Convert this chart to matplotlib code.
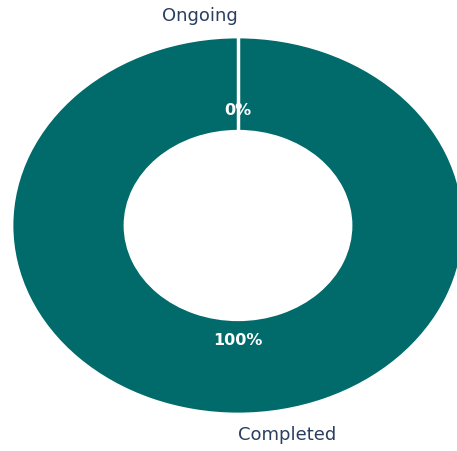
import numpy as np
import matplotlib
matplotlib.use('Agg')
import matplotlib.pyplot as plt

# donut of project status
labels = ['Ongoing', 'Completed']
values = [0, 100]
colours = ['#1f77b4', '#006b6a']

fig = plt.figure(figsize=(4.57, 4.51), dpi=100)
ax = fig.add_axes([0, 0, 1, 1])

wedges, texts, autotexts = ax.pie(
    values, labels=labels, colors=colours, startangle=90, counterclock=False,
    autopct='%1.0f%%', pctdistance=0.61, labeldistance=1.11,
    wedgeprops=dict(width=0.5, edgecolor='white', linewidth=2),
    textprops=dict(color='#2a3f5f', fontsize=13))

texts[0].set_ha('right')
texts[1].set_ha('left')
for t in autotexts:
    t.set_color('white')
    t.set_fontweight('bold')
    t.set_fontsize(11.5)

# full-circle wedge has no radial edge, so draw the slice border by hand
ang = np.deg2rad(wedges[0].theta1)
r = np.array([wedges[0].r - wedges[0].width, wedges[0].r])
ax.plot(r * np.cos(ang), r * np.sin(ang), color='white', lw=2.5)

# stretch the donut to fill the frame like the original
ax.set_aspect('auto')
ax.set_xlim(-238 / 226, (457 - 238) / 226)
ax.set_ylim(-225.5 / 188.5, 225.5 / 188.5)
ax.axis('off')

fig.savefig('out.png', dpi=100)
